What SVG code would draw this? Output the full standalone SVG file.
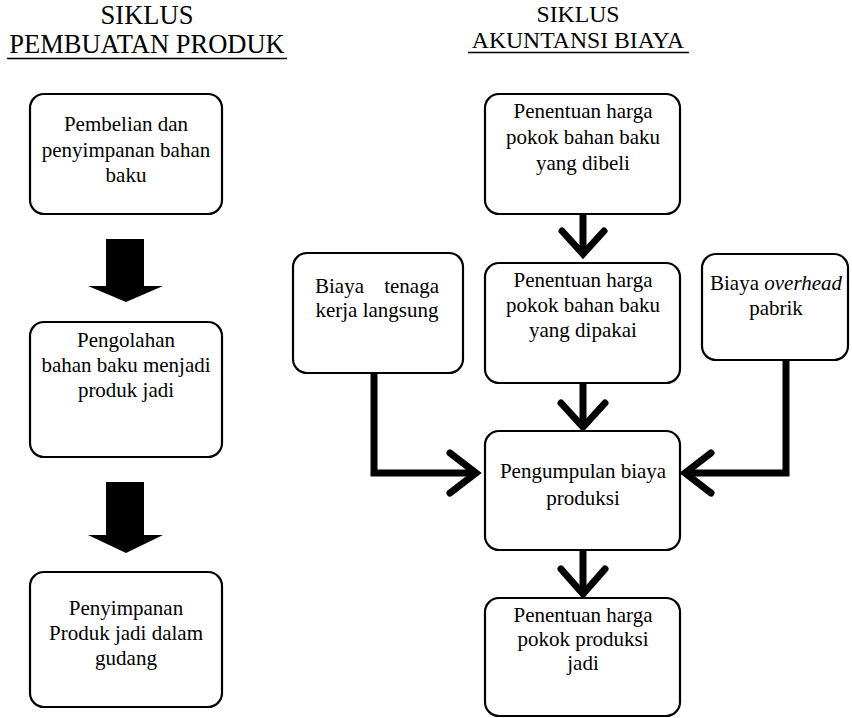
<svg xmlns="http://www.w3.org/2000/svg" width="852" height="718" viewBox="0 0 852 718">
  <style>
    text { font-family: "Liberation Serif", "Times New Roman", serif; fill: #000; }
    .title-l { font-size: 26.5px; text-anchor: middle; }
    .title-r { font-size: 23.7px; text-anchor: middle; }
    .lbl { font-size: 21px; text-anchor: middle; }
    .box { fill: #fff; stroke: #000; stroke-width: 2.2; }
    .uline { stroke: #000; stroke-width: 1.6; }
    .conn { fill: none; stroke: #000; stroke-width: 7; stroke-linejoin: miter; }
    .chev { fill: none; stroke: #000; stroke-width: 7; stroke-linecap: round; stroke-linejoin: miter; }
    .block { fill: #000; }
  </style>

  <!-- Headings -->
  <g id="title-left">
    <text class="title-l" x="147" y="24">SIKLUS</text>
    <text class="title-l" x="147" y="53">PEMBUATAN PRODUK</text>
    <line class="uline" x1="7" y1="58.5" x2="287" y2="58.5"/>
  </g>
  <g id="title-right">
    <text class="title-r" x="578" y="22">SIKLUS</text>
    <text class="title-r" x="578" y="48">AKUNTANSI BIAYA</text>
    <line class="uline" x1="468" y1="52.5" x2="689" y2="52.5"/>
  </g>

  <!-- Production cycle -->
  <g id="node-pembelian">
    <rect class="box" x="30" y="94" width="192" height="120" rx="14"/>
    <text class="lbl" x="126" y="131">Pembelian dan</text>
    <text class="lbl" x="126" y="157">penyimpanan bahan</text>
    <text class="lbl" x="126" y="182">baku</text>
  </g>
  <g id="node-pengolahan">
    <rect class="box" x="30" y="322" width="192" height="135" rx="14"/>
    <text class="lbl" x="126" y="347">Pengolahan</text>
    <text class="lbl" x="126" y="372">bahan baku menjadi</text>
    <text class="lbl" x="126" y="397">produk jadi</text>
  </g>
  <g id="node-penyimpanan">
    <rect class="box" x="30" y="572" width="192" height="135" rx="14"/>
    <text class="lbl" x="126" y="615">Penyimpanan</text>
    <text class="lbl" x="126" y="640">Produk jadi dalam</text>
    <text class="lbl" x="126" y="665">gudang</text>
  </g>

  <!-- Cost accounting cycle -->
  <g id="node-harga-dibeli">
    <rect class="box" x="485" y="94" width="195" height="120" rx="14"/>
    <text class="lbl" x="583" y="118">Penentuan harga</text>
    <text class="lbl" x="583" y="144">pokok bahan baku</text>
    <text class="lbl" x="583" y="170">yang dibeli</text>
  </g>
  <g id="node-harga-dipakai">
    <rect class="box" x="485" y="263" width="195" height="120" rx="14"/>
    <text class="lbl" x="583" y="287">Penentuan harga</text>
    <text class="lbl" x="583" y="312">pokok bahan baku</text>
    <text class="lbl" x="583" y="337">yang dipakai</text>
  </g>
  <g id="node-tenaga-kerja">
    <rect class="box" x="293" y="253" width="170" height="120" rx="14"/>
    <text class="lbl" x="315" y="293" style="text-anchor:start">Biaya</text>
    <text class="lbl" x="439" y="293" style="text-anchor:end">tenaga</text>
    <text class="lbl" x="377" y="317">kerja langsung</text>
  </g>
  <g id="node-overhead">
    <rect class="box" x="702" y="254" width="146" height="106" rx="14"/>
    <text class="lbl" x="776" y="290">Biaya <tspan font-style="italic">overhead</tspan></text>
    <text class="lbl" x="776" y="315">pabrik</text>
  </g>
  <g id="node-pengumpulan">
    <rect class="box" x="485" y="431" width="195" height="119" rx="14"/>
    <text class="lbl" x="583" y="478">Pengumpulan biaya</text>
    <text class="lbl" x="583" y="505">produksi</text>
  </g>
  <g id="node-harga-produksi">
    <rect class="box" x="485" y="598" width="195" height="118" rx="14"/>
    <text class="lbl" x="583" y="622">Penentuan harga</text>
    <text class="lbl" x="583" y="646">pokok produksi</text>
    <text class="lbl" x="583" y="670">jadi</text>
  </g>

  <!-- Connectors -->
  <g id="connectors">
    <!-- block arrows, production cycle -->
    <path class="block" d="M106,239 H144 V286 H163 L126,302 L88,286 H106 Z"/>
    <path class="block" d="M106,482 H144 V535 H163 L126,553 L88,535 H106 Z"/>

    <!-- purchased -> used -->
    <line class="conn" x1="583" y1="214" x2="583" y2="252"/>
    <polyline class="chev" points="562,231 583,254 604,231"/>
    <!-- used -> collection -->
    <line class="conn" x1="583" y1="383" x2="583" y2="425"/>
    <polyline class="chev" points="561,403 583,427 605,403"/>
    <!-- collection -> product cost -->
    <line class="conn" x1="583" y1="550" x2="583" y2="592"/>
    <polyline class="chev" points="561,569 583,594 605,569"/>

    <!-- direct labour -> collection -->
    <path class="conn" d="M374,373 V473 H475"/>
    <polyline class="chev" points="450,453 476,473 450,493"/>
    <!-- factory overhead -> collection -->
    <path class="conn" d="M786,360 V473 H686"/>
    <polyline class="chev" points="711,453 685,473 711,493"/>
  </g>
</svg>
